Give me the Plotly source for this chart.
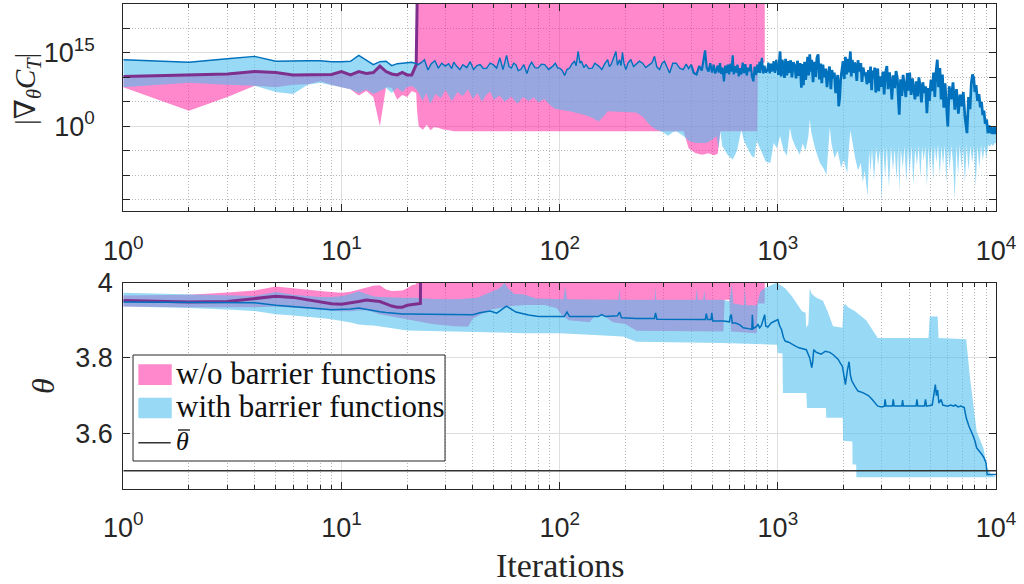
import plotly.graph_objects as go

# ---------------- data ----------------
it_a = list(range(1, 23))  # first iterations 1..22

# ---- top panel: log10 |grad_theta C_T| ----
# w/o barrier: mean (thick purple) for the first iterations, then diverges
lg_wo_mean_a = [10.2, 10.5, 10.7, 11.2, 11.0, 10.5, 10.5, 10.5, 10.6, 11.2, 10.5,
                11.2, 10.8, 11.0, 12.3, 11.2, 10.7, 10.5, 11.0, 10.5, 10.5, 12.6]
lg_wo_mean_tail = [(22.3, 30.0)]          # off-scale (divergence)
lg_wo_hi_tail = [(22.3, 30.0), (871, 30.0)]
lg_wo_lo_a = [8.0, 3.2, 6.0, 8.3, 8.0, 8.5, 8.6, 9.2, 8.5, 8.0, 7.6,
              6.3, 7.2, 6.0, 0.0, 8.0, 7.9, 5.5, 6.4, 6.0, 7.2, 6.8]
lg_wo_lo_tail = [(22.2, 3.2), (22.6, 0.0), (23.6, -0.7), (24.6, 0.3), (25.6, -0.8),
                 (26.5, -0.2), (27.8, -0.3), (29, -0.6), (30.3, -0.8), (33, -1.0),
                 (370, -1.0), (380, -2.5), (390, -4.5), (420, -5.5), (450, -5.8),
                 (480, -5.5), (510, -5.9), (530, -5.6), (540, -3.0), (545, -1.0),
                 (805, -1.0), (810, 13.0), (871, 13.0)]

# with barrier: line (upper edge of band) and lower edge of band
lg_w_line_a = [13.6, 13.1, 13.8, 14.3, 13.3, 13.4, 13.4, 13.4, 13.2, 13.2, 13.3,
               14.5, 13.6, 12.6, 13.2, 13.3, 12.4, 12.8, 12.9, 13.0, 13.1, 12.8]
lg_w_line_tail = [
    (22.4, 12.6), (23.2, 13.0), (24.0, 13.6), (24.9, 11.5), (25.8, 12.8), (26.8, 13.4),
    (27.8, 11.9), (28.8, 12.9), (29.9, 12.3), (31.0, 12.8), (32.0, 11.8), (32.7, 13.1),
    (33.8, 12.2), (34.9, 11.6), (36.0, 12.6), (37.5, 12.0), (38.9, 13.2), (40.3, 11.6),
    (41.8, 12.4), (43.2, 12.6), (44.7, 11.8), (46.3, 11.9), (48.0, 12.9), (49.6, 12.6),
    (51.4, 11.9), (53.2, 14.0), (55.0, 11.6), (57.1, 14.5), (58.6, 12.2), (60.1, 11.9),
    (61.5, 12.9), (63.0, 12.6), (64.6, 11.4), (66.3, 11.6), (68.5, 12.6), (70.8, 10.8),
    (72.6, 12.3), (74.4, 13.1), (77.0, 12.0), (79.6, 11.9), (82.5, 12.7), (85.3, 12.6),
    (89.0, 11.6), (93.0, 12.3), (95.5, 12.9), (98.0, 11.9), (100, 11.9), (102.7, 11.4),
    (105.4, 10.4), (108, 11.6), (111, 11.9), (114, 12.8), (117, 13.3), (119, 12.4),
    (121.5, 15.3), (124, 12.9), (126, 13.3), (129, 12.0), (132, 12.6), (136, 11.8),
    (141, 11.9), (145, 12.9), (151, 12.3), (156, 11.6), (161, 12.8), (166, 13.6),
    (169, 12.2), (172, 12.6), (176, 13.8), (181, 15.3), (184, 12.5), (188, 13.6),
    (191, 12.4), (194, 15.1), (197, 12.9), (201, 11.6), (206, 13.0), (212, 13.6),
    (218, 12.2), (224, 12.6), (232, 13.3), (240, 12.9), (248, 12.0), (258, 12.6),
    (265, 13.0), (272, 14.3), (279, 12.1), (287, 11.6), (295, 12.9), (302, 13.3),
    (310, 12.1), (319, 10.9), (330, 12.9), (342, 12.9), (355, 11.9), (368, 11.6),
    (380, 12.7), (390, 11.8),
    (400, 12.6), (412, 10.9), (424, 10.6), (436, 12.3), (448, 11.4), (456, 13.4),
    (464, 15.5), (472, 12.0), (481, 11.2), (490, 12.9), (499, 11.0), (508, 12.6),
    (516, 10.8), (522, 11.4), (530, 12.4), (536, 11.0), (543, 12.9), (550, 10.7),
    (558, 12.0), (566, 9.2), (574, 12.4), (582, 10.9), (590, 12.6), (598, 10.6),
    (606, 12.8), (614, 11.2), (621, 14.5), (628, 10.6), (636, 12.3), (644, 11.0),
    (653, 12.6), (662, 10.2), (671, 11.9), (680, 10.6), (690, 13.0), (700, 10.9),
    (710, 12.7), (720, 10.4), (731, 12.0), (741, 11.3), (750, 12.7), (761, 10.2),
    (772, 9.2), (783, 12.2), (795, 10.5), (806, 12.6), (815, 11.0), (823, 13.2),
    (830, 10.9), (838, 12.8), (845, 14.0), (857, 10.8), (868, 12.4), (880, 11.0),
    (893, 11.3), (905, 13.0), (918, 10.8), (930, 12.8), (943, 11.2), (956, 13.3),
    (970, 10.9), (983, 13.6), (996, 12.0),
    (1005, 10.5), (1015, 14.8), (1024, 15.3), (1035, 10.2), (1047, 13.6), (1060, 12.3),
    (1072, 9.9), (1085, 13.8), (1100, 10.4), (1116, 13.3), (1130, 10.9), (1145, 13.5),
    (1160, 10.0), (1178, 13.1), (1196, 12.3), (1212, 9.8), (1230, 13.4), (1248, 10.3),
    (1265, 12.9), (1282, 7.9), (1295, 12.7), (1310, 8.4),
    (1325, 13.2), (1340, 9.5), (1355, 12.8), (1370, 14.2), (1385, 10.4), (1400, 14.7),
    (1415, 11.2), (1430, 13.6), (1450, 9.0), (1470, 13.2), (1490, 10.1), (1510, 14.0),
    (1530, 14.7), (1550, 9.6), (1570, 12.8), (1590, 8.8), (1610, 12.6), (1630, 10.0),
    (1655, 11.8), (1680, 8.0), (1700, 10.7), (1725, 12.2), (1750, 7.6), (1770, 11.5),
    (1790, 9.8), (1815, 11.0), (1840, 6.8), (1860, 8.9), (1880, 10.5), (1900, 4.1),
    (1920, 5.8), (1940, 9.6),
    (1965, 12.3), (1990, 13.3), (2015, 9.7), (2040, 14.2), (2065, 10.6), (2090, 13.8),
    (2115, 11.0), (2135, 14.4), (2150, 15.3), (2170, 10.2), (2195, 13.6), (2220, 10.9),
    (2245, 13.0), (2270, 12.6), (2300, 9.3), (2330, 13.5), (2360, 11.2), (2400, 12.9),
    (2430, 9.1), (2460, 12.0), (2500, 10.3), (2530, 11.0), (2560, 8.6),
    (2600, 11.5), (2630, 8.9), (2660, 12.2), (2690, 7.4), (2720, 11.4), (2750, 9.8),
    (2780, 12.0), (2810, 6.9), (2840, 10.6), (2870, 11.8), (2900, 7.2), (2930, 10.2),
    (2960, 8.4), (2990, 8.2),
    (3030, 11.2), (3070, 6.5), (3110, 10.8), (3160, 12.3), (3200, 7.6), (3250, 11.0),
    (3300, 8.3), (3330, 5.5), (3380, 10.4), (3430, 7.8), (3480, 11.3), (3530, 9.9),
    (3570, 5.2), (3600, 2.4), (3650, 9.6), (3700, 6.2), (3750, 10.5), (3800, 8.4),
    (3860, 6.0), (3920, 10.9), (3970, 7.3), (4020, 11.0),
    (4080, 6.4), (4140, 9.8), (4200, 7.9), (4250, 5.5), (4310, 9.2), (4370, 6.1),
    (4430, 10.0), (4480, 8.5), (4550, 4.9), (4620, 9.0), (4690, 6.8), (4760, 8.2),
    (4820, 2.7), (4890, 7.8), (4950, 5.2),
    (5030, 9.5), (5100, 7.2), (5170, 11.0), (5240, 6.0), (5300, 10.8), (5380, 13.6),
    (5450, 8.0), (5530, 11.9), (5600, 5.5), (5680, 10.6), (5760, 3.8), (5840, 8.8),
    (5920, 4.6), (6010, 0.0),
    (6100, 8.2), (6230, 5.5), (6350, 9.0), (6470, 3.4), (6590, 7.6), (6720, 2.6),
    (6840, 6.5), (6960, 4.1), (7080, 7.0), (7200, 2.0), (7360, -1.4),
    (7480, 6.0), (7600, 3.5), (7700, 8.8), (7800, 10.6), (7900, 9.9), (8000, 7.0),
    (8100, 8.4), (8220, 5.2), (8350, 6.6),
    (8470, 3.9), (8580, 5.0), (8690, 2.3), (8800, 3.2), (8920, 0.5), (9050, 1.4),
    (9180, -1.4), (9300, 0.2),
    (9400, -1.3), (9470, 0.0), (9530, -1.5), (9600, -0.2), (9660, -1.6), (9720, -0.4),
    (9780, -1.5), (9840, 0.0), (9900, -1.6), (9950, -0.6), (10000, -1.0)]

lg_w_lo_a = [8.0, 8.9, 8.5, 8.3, 7.0, 6.6, 8.5, 8.9, 8.5, 8.0, 7.6,
             6.8, 7.5, 6.6, 7.2, 7.9, 6.8, 7.9, 7.0, 8.0, 8.3, 7.6]
lg_w_lo_tail = [
    (22.5, 7.0), (23.5, 5.2), (24.5, 6.8), (25.5, 4.6), (27, 6.6), (28.5, 5.8), (30, 7.4),
    (32, 5.2), (34, 7.0), (36, 6.2), (38, 7.6), (40, 5.6), (42, 6.8), (44, 5.0), (46, 6.4),
    (48, 7.1), (50, 5.4), (53, 6.3), (56, 5.0), (60, 6.1), (64, 4.6), (68, 6.0), (72, 5.2),
    (76, 5.9), (80, 4.9), (85, 5.6), (90, 4.4), (95, 3.6), (100, 3.4), (111, 3.1),
    (128, 2.4), (140, 1.8), (151, 1.0), (160, 2.2), (166, 3.1), (181, 3.1), (200, 2.9),
    (224, 2.8), (240, 2.0), (258, 0.3), (275, -0.6), (298, -1.2), (314, -1.9),
    (330, -1.2), (342, -1.0), (368, -1.9), (395, -3.1), (424, -3.4), (472, -3.4),
    (508, -2.5), (522, -2.0), (535, -4.5), (545, -1.0), (556, -4.0), (590, -5.9),
    (621, -6.8), (650, -5.0), (680, -0.7), (700, -3.0), (719, -4.1), (740, -5.2),
    (760, -6.1), (780, -6.4), (800, -3.0), (815, -3.8), (845, -5.5), (880, -7.2),
    (924, -7.5), (957, -3.4), (990, -4.5), (1024, -2.0), (1060, -4.8), (1100, -6.0),
    (1136, -0.3), (1160, -2.4), (1200, -4.0), (1260, -5.8), (1300, -3.5), (1340, -5.0),
    (1380, -2.0), (1400, 1.4), (1420, -1.0), (1480, -4.5), (1560, -7.5), (1620, -8.6),
    (1670, -9.9), (1700, -5.0), (1730, -0.2), (1760, -3.5), (1820, -6.5), (1880, -5.0),
    (1950, -8.5), (2000, -6.8), (2080, -9.6), (2120, -4.0), (2150, -0.8), (2200, -3.6),
    (2260, -6.4), (2330, -9.0), (2400, -7.5), (2450, -11.5), (2500, -9.0), (2580, -14.3),
    (2620, -5.0), (2660, -9.5), (2700, -4.5), (2760, -11.0), (2820, -4.2), (2880, -8.0),
    (2940, -4.5), (2990, -15.6), (3040, -4.0), (3100, -10.5), (3160, -4.2), (3230, -12.5),
    (3300, -4.0), (3370, -9.0), (3430, -4.3), (3500, -11.0), (3560, -4.0), (3600, -13.6),
    (3660, -4.5), (3740, -8.5), (3800, -4.0), (3880, -11.5), (3950, -4.2), (4020, -9.5),
    (4100, -4.0), (4180, -12.0), (4260, -4.3), (4340, -8.0), (4420, -3.9), (4500, -10.5),
    (4580, -4.2), (4660, -7.0), (4740, -4.0), (4820, -12.3), (4900, -4.1), (4980, -9.0),
    (5060, -3.8), (5150, -11.0), (5240, -4.0), (5330, -7.5), (5420, -3.6), (5520, -10.0),
    (5620, -4.1), (5720, -8.0), (5820, -3.8), (5920, -11.5), (6020, -4.0), (6130, -9.0),
    (6240, -3.9), (6350, -7.5), (6470, -14.9), (6580, -4.0), (6700, -10.0), (6820, -3.8),
    (6940, -8.5), (7060, -4.0), (7200, -11.5), (7340, -3.8), (7480, -9.0), (7620, -4.0),
    (7780, -7.5), (7920, -3.9), (8070, -12.3), (8220, -4.0), (8380, -8.5), (8540, -3.8),
    (8700, -7.0), (8860, -4.0), (9020, -6.5), (9200, -3.8), (9360, -4.1), (9520, -3.6),
    (9700, -4.0), (9850, -3.4), (10000, -3.4)]

# ---- bottom panel: theta ----
th_wo_mean_a = [3.953, 3.949, 3.950, 3.958, 3.964, 3.961, 3.955, 3.949, 3.944, 3.943, 3.946,
                3.950, 3.954, 3.952, 3.950, 3.944, 3.938, 3.935, 3.935, 3.940, 3.942, 3.942]
th_wo_mean_tail = [(23.0, 3.945), (23.2, 4.3)]
th_wo_hi_a = [3.966, 3.968, 3.974, 3.979, 3.990, 3.986, 3.981, 3.978, 3.975, 3.973, 3.976,
              3.982, 3.988, 3.992, 3.993, 3.982, 3.978, 3.979, 3.979, 3.985, 3.993, 3.996]
th_wo_hi_tail = [(22.3, 4.3), (871, 4.3)]
th_wo_lo_a = [3.937, 3.935, 3.935, 3.935, 3.937, 3.934, 3.931, 3.928, 3.925, 3.924, 3.924,
              3.926, 3.927, 3.922, 3.916, 3.912, 3.909, 3.906, 3.904, 3.902, 3.900, 3.898]
th_wo_lo_tail = [(26, 3.890), (33, 3.884), (38, 3.883), (40, 3.905), (48, 3.928), (60, 3.938),
                 (70, 3.941), (85, 3.941), (97, 3.932), (102, 3.915), (110, 3.900), (137, 3.895),
                 (145, 3.912), (160, 3.912), (175, 3.895), (200, 3.890), (225, 3.872),
                 (563, 3.870), (570, 3.955), (600, 3.955), (610, 3.870), (800, 3.866),
                 (810, 3.945), (871, 3.945)]

th_w_line_a = [3.949, 3.949, 3.948, 3.947, 3.940, 3.937, 3.935, 3.931, 3.928, 3.928, 3.930,
               3.933, 3.929, 3.925, 3.923, 3.921, 3.919, 3.918, 3.917, 3.917, 3.917, 3.917]
th_w_line_tail = [
    (30, 3.917), (38, 3.917), (40, 3.915), (43, 3.920), (48, 3.925), (51.5, 3.919), (57, 3.938),
    (63, 3.922), (72, 3.914), (80, 3.910), (105, 3.910), (108, 3.922), (111, 3.910), (150, 3.910),
    (156, 3.915), (162, 3.910), (184, 3.912), (188, 3.922), (192, 3.907), (225, 3.905),
    (272, 3.905), (275, 3.920), (279, 3.903), (465, 3.902), (470, 3.918), (476, 3.902),
    (494, 3.902), (498, 3.920), (503, 3.898), (563, 3.898), (600, 3.896), (606, 3.912),
    (612, 3.915), (618, 3.893), (640, 3.893), (670, 3.888), (694, 3.880), (735, 3.878),
    (760, 3.876), (764, 3.915), (770, 3.878), (800, 3.884), (810, 3.890), (825, 3.880),
    (840, 3.886), (870, 3.915), (880, 3.885), (900, 3.882), (930, 3.893), (960, 3.897),
    (985, 3.900), (1000, 3.902), (1020, 3.885), (1040, 3.875), (1060, 3.855), (1080, 3.845),
    (1120, 3.842), (1160, 3.838), (1200, 3.832), (1250, 3.827), (1300, 3.825), (1350, 3.822),
    (1400, 3.800), (1430, 3.774), (1445, 3.790), (1460, 3.822), (1500, 3.815), (1580, 3.810),
    (1650, 3.818), (1730, 3.815), (1800, 3.808), (1890, 3.796), (1940, 3.785), (1976, 3.778),
    (2000, 3.760), (2040, 3.729), (2080, 3.765), (2120, 3.790), (2150, 3.755), (2180, 3.740),
    (2250, 3.725), (2330, 3.712), (2450, 3.708), (2600, 3.700), (2700, 3.690), (2870, 3.672),
    (3000, 3.670), (3080, 3.672), (3100, 3.690), (3130, 3.672), (3350, 3.672), (3380, 3.690),
    (3410, 3.672), (3700, 3.672), (3730, 3.688), (3760, 3.672), (4300, 3.672), (4340, 3.690),
    (4380, 3.672), (4700, 3.672), (4750, 3.690), (4800, 3.672), (5100, 3.675), (5200, 3.710),
    (5270, 3.729), (5330, 3.700), (5400, 3.715), (5470, 3.680), (5600, 3.690), (5700, 3.675),
    (6000, 3.672), (6200, 3.675), (6400, 3.672), (6500, 3.675), (6700, 3.670), (6900, 3.672),
    (7150, 3.668), (7300, 3.641), (7500, 3.620), (7800, 3.597), (8000, 3.580), (8150, 3.561),
    (8400, 3.552), (8600, 3.544), (8800, 3.535), (9000, 3.521), (9100, 3.490), (9300, 3.490),
    (9500, 3.488), (9700, 3.490), (10000, 3.490)]
th_w_hi_a = [3.973, 3.968, 3.966, 3.965, 3.975, 3.968, 3.965, 3.962, 3.962, 3.964, 3.970,
             3.977, 3.970, 3.964, 3.962, 3.961, 3.960, 3.960, 3.960, 3.960, 3.960, 3.960]
th_w_hi_tail = [
    (26, 3.957), (34, 3.956), (42, 3.960), (48, 3.975), (53, 3.985), (56, 4.0), (58, 3.985),
    (62, 3.970), (68, 3.969), (78, 3.958), (104, 3.956), (106, 3.990), (108, 3.956),
    (186, 3.955), (188, 3.985), (190, 3.955), (273, 3.955), (275, 3.990), (277, 3.955),
    (420, 3.955), (425, 3.985), (430, 3.955), (455, 3.955), (460, 3.980), (465, 3.955),
    (560, 3.955), (600, 3.950), (615, 3.995), (625, 3.945), (700, 3.940), (705, 3.990),
    (715, 3.940), (800, 3.940), (830, 3.975), (870, 3.986), (990, 4.0), (1080, 3.985),
    (1160, 3.964), (1290, 3.924), (1340, 3.920), (1350, 3.880), (1380, 3.890), (1400, 3.985),
    (1430, 3.970), (1500, 3.960), (1610, 3.952), (1700, 3.920), (1790, 3.884), (1976, 3.880),
    (2000, 3.940), (2040, 3.943), (2100, 3.935), (2250, 3.925), (2540, 3.900), (2870, 3.853),
    (4900, 3.853), (4970, 3.910), (5400, 3.910), (5450, 3.853), (7300, 3.850), (7600, 3.747),
    (8150, 3.605), (8750, 3.561), (9100, 3.508), (9500, 3.490), (10000, 3.483)]
th_w_lo_a = [3.937, 3.933, 3.929, 3.925, 3.916, 3.913, 3.910, 3.906, 3.903, 3.899, 3.894,
             3.889, 3.887, 3.886, 3.884, 3.880, 3.878, 3.877, 3.875, 3.873, 3.873, 3.872]
th_w_lo_tail = [(34, 3.869), (68, 3.866), (100, 3.866), (137, 3.862), (195, 3.857),
                (225, 3.843), (552, 3.840), (870, 3.836), (990, 3.835), (1000, 3.813),
                (1050, 3.812), (1055, 3.707), (1350, 3.707), (1360, 3.667), (1660, 3.667),
                (1667, 3.641), (1985, 3.641), (1990, 3.580), (2195, 3.578), (2200, 3.517),
                (2285, 3.517), (2290, 3.483), (10000, 3.483)]
theta_bar = 3.5

# axis ticks
x_tickvals = [1, 10, 100, 1000, 10000]
x_ticktext = ["10<sup>0</sup>", "10<sup>1</sup>", "10<sup>2</sup>", "10<sup>3</sup>", "10<sup>4</sup>"]
g_tickvals = [1, 1e15]
g_ticktext = ["10<sup>0</sup>", "10<sup>15</sup>"]
g_minor = [1e-15, 1e-10, 1e-5, 1e5, 1e10, 1e20]
th_tickvals = [3.6, 3.8, 4.0]
th_ticktext = ["3.6", "3.8", "4"]

# ---------------- helpers ----------------
def series(head_x, head_y, tail):
    xs = list(head_x) + [p[0] for p in tail]
    ys = list(head_y) + [p[1] for p in tail]
    return xs, ys

def polygon(xh, yh, xl, yl):
    return xh + xl[::-1], yh + yl[::-1]

PINK = "rgba(255,17,153,0.5)"
LBLUE = "rgba(77,190,238,0.58)"
PURPLE = "#7E2F8E"
BLUE = "#0072BD"
AX = "#262626"

fig = go.Figure()

# ---- top panel ----
xh, yh = series(it_a, lg_wo_mean_a, lg_wo_hi_tail)
xl, yl = series(it_a, lg_wo_lo_a, lg_wo_lo_tail)
px_, py_ = polygon(xh, yh, xl, yl)
fig.add_trace(go.Scatter(x=px_, y=[10 ** v for v in py_], fill="toself", fillcolor=PINK,
                         line=dict(width=0), mode="lines", showlegend=False, hoverinfo="skip",
                         xaxis="x", yaxis="y"))
xwh, ywh = series(it_a, lg_w_line_a, lg_w_line_tail)
xwl, ywl = series(it_a, lg_w_lo_a, lg_w_lo_tail)
px_, py_ = polygon(xwh, ywh, xwl, ywl)
fig.add_trace(go.Scatter(x=px_, y=[10 ** v for v in py_], fill="toself", fillcolor=LBLUE,
                         line=dict(width=0), mode="lines", showlegend=False, hoverinfo="skip",
                         xaxis="x", yaxis="y"))
xm, ym = series(it_a, lg_wo_mean_a, lg_wo_mean_tail)
fig.add_trace(go.Scatter(x=xm, y=[10 ** v for v in ym], mode="lines",
                         line=dict(color=PURPLE, width=3), showlegend=False, xaxis="x", yaxis="y"))
# the with-barrier line: sparse early part thin, dense (noisy) late part drawn heavier
k_split = next(i for i, v in enumerate(xwh) if v >= 400)
k_split2 = next(i for i, v in enumerate(xwh) if v >= 1000)
fig.add_trace(go.Scatter(x=xwh[:k_split + 1], y=[10 ** v for v in ywh[:k_split + 1]],
                         mode="lines", line=dict(color=BLUE, width=1.4), showlegend=False,
                         xaxis="x", yaxis="y"))
fig.add_trace(go.Scatter(x=xwh[k_split:k_split2 + 1], y=[10 ** v for v in ywh[k_split:k_split2 + 1]],
                         mode="lines", line=dict(color=BLUE, width=2.2), showlegend=False,
                         xaxis="x", yaxis="y"))
fig.add_trace(go.Scatter(x=xwh[k_split2:], y=[10 ** v for v in ywh[k_split2:]],
                         mode="lines", line=dict(color=BLUE, width=2.7), showlegend=False,
                         xaxis="x", yaxis="y"))

# ---- bottom panel ----
xh, yh = series(it_a, th_wo_hi_a, th_wo_hi_tail)
xl, yl = series(it_a, th_wo_lo_a, th_wo_lo_tail)
px_, py_ = polygon(xh, yh, xl, yl)
fig.add_trace(go.Scatter(x=px_, y=py_, fill="toself", fillcolor=PINK, line=dict(width=0),
                         mode="lines", showlegend=False, hoverinfo="skip", xaxis="x2", yaxis="y2"))
xh, yh = series(it_a, th_w_hi_a, th_w_hi_tail)
xl, yl = series(it_a, th_w_lo_a, th_w_lo_tail)
px_, py_ = polygon(xh, yh, xl, yl)
fig.add_trace(go.Scatter(x=px_, y=py_, fill="toself", fillcolor=LBLUE, line=dict(width=0),
                         mode="lines", showlegend=False, hoverinfo="skip", xaxis="x2", yaxis="y2"))
xm, ym = series(it_a, th_wo_mean_a, th_wo_mean_tail)
fig.add_trace(go.Scatter(x=xm, y=ym, mode="lines", line=dict(color=PURPLE, width=3),
                         showlegend=False, xaxis="x2", yaxis="y2"))
xb, yb = series(it_a, th_w_line_a, th_w_line_tail)
fig.add_trace(go.Scatter(x=xb, y=yb, mode="lines", line=dict(color=BLUE, width=1.5),
                         showlegend=False, xaxis="x2", yaxis="y2"))
fig.add_trace(go.Scatter(x=[1, 10000], y=[theta_bar, theta_bar], mode="lines",
                         line=dict(color="#333333", width=1.5), showlegend=False,
                         xaxis="x2", yaxis="y2"))

# ---------------- layout ----------------
tickfont = dict(family="Liberation Sans, Arial, sans-serif", size=27, color=AX)
x_minor = [k * 10 ** d for d in range(4) for k in range(2, 10)]
MINOR_GRID = "#b8b8b8"
DOTS = "1px,2px"

def xaxis_cfg(anchor, standoff):
    return dict(type="log", range=[0, 4], domain=[0.1204, 0.9727], anchor=anchor,
                automargin=False,
                tickvals=x_tickvals, ticktext=x_ticktext, tickfont=tickfont,
                ticks="inside", ticklen=7, tickcolor=AX, showline=True, linecolor=AX,
                linewidth=1, mirror="allticks", showgrid=True, gridcolor="#dedede",
                gridwidth=1, zeroline=False, ticklabelstandoff=standoff,
                minor=dict(tickvals=x_minor, ticks="inside", ticklen=4, tickcolor=AX,
                           showgrid=True, gridcolor=MINOR_GRID, griddash=DOTS, gridwidth=1))

fig.update_layout(
    width=1024, height=584, margin=dict(l=0, r=0, t=0, b=0),
    paper_bgcolor="white", plot_bgcolor="white", showlegend=False,
    xaxis=xaxis_cfg("y", 16),
    xaxis2=xaxis_cfg("y2", 14),
    yaxis=dict(type="log", range=[-17.3, 25], domain=[0.6387, 0.9932], anchor="x",
               automargin=False,
               tickvals=g_tickvals, ticktext=g_ticktext, tickfont=tickfont,
               ticks="inside", ticklen=7, tickcolor=AX, showline=True, linecolor=AX,
               linewidth=1, mirror="allticks", showgrid=True, gridcolor="#dedede",
               zeroline=False, ticklabelstandoff=22,
               minor=dict(tickvals=g_minor, ticks="inside", ticklen=7, tickcolor=AX,
                          showgrid=True, gridcolor=MINOR_GRID, griddash=DOTS)),
    yaxis2=dict(range=[3.451, 4.0], domain=[0.1622, 0.5159], anchor="x2",
                automargin=False,
                tickvals=th_tickvals, ticktext=th_ticktext, tickfont=tickfont,
                ticks="inside", ticklen=7, tickcolor=AX, showline=True, linecolor=AX,
                linewidth=1, mirror="allticks", showgrid=True, gridcolor="#dedede",
                zeroline=False, ticklabelstandoff=4),
)

serif = "Liberation Serif, DejaVu Serif, serif"
fig.add_annotation(x=0.0264, y=0.8476, xref="paper", yref="paper", textangle=-90,
                   xanchor="center", yanchor="middle",
                   text="|∇<sub><i>θ</i></sub><i>C</i><sub><i>T</i></sub>|", showarrow=False,
                   font=dict(family=serif, size=29, color=AX))
fig.add_annotation(x=0.042, y=0.339, xref="paper", yref="paper", textangle=-90,
                   xanchor="center", yanchor="middle",
                   text="<i>θ</i>", showarrow=False, font=dict(family=serif, size=32, color=AX))
fig.add_annotation(x=0.547, y=0.031, xref="paper", yref="paper", text="Iterations",
                   xanchor="center", yanchor="middle",
                   showarrow=False, font=dict(family=serif, size=34, color=AX))

# manual legend (MATLAB style box)
fig.add_shape(type="rect", xref="paper", yref="paper", x0=0.1299, x1=0.4346, y0=0.2106,
              y1=0.3921, line=dict(color=AX, width=1), fillcolor="white", layer="above")
fig.add_shape(type="rect", xref="paper", yref="paper", x0=0.1351, x1=0.1677, y0=0.3408,
              y1=0.3762, line=dict(width=0), fillcolor=PINK, layer="above")
fig.add_shape(type="rect", xref="paper", yref="paper", x0=0.1351, x1=0.1677, y0=0.2837,
              y1=0.3190, line=dict(width=0), fillcolor=LBLUE, layer="above")
fig.add_shape(type="line", xref="paper", yref="paper", x0=0.1351, x1=0.1667, y0=0.2419,
              y1=0.2419, line=dict(color="#333333", width=1.5), layer="above")
# bar of theta-bar
fig.add_shape(type="line", xref="paper", yref="paper", x0=0.1738, x1=0.1855, y0=0.2637,
              y1=0.2637, line=dict(color="#111111", width=1.3), layer="above")
for txt, yy, sz in [("w/o barrier functions", 0.3613, 31),
                    ("with barrier functions", 0.3031, 31),
                    ("<i>θ</i>", 0.2440, 26)]:
    fig.add_annotation(x=0.1695, y=yy, xref="paper", yref="paper", xanchor="left",
                       yanchor="middle", text=txt, showarrow=False,
                       font=dict(family=serif, size=sz, color="#111111"))

fig.write_html("out.html")
